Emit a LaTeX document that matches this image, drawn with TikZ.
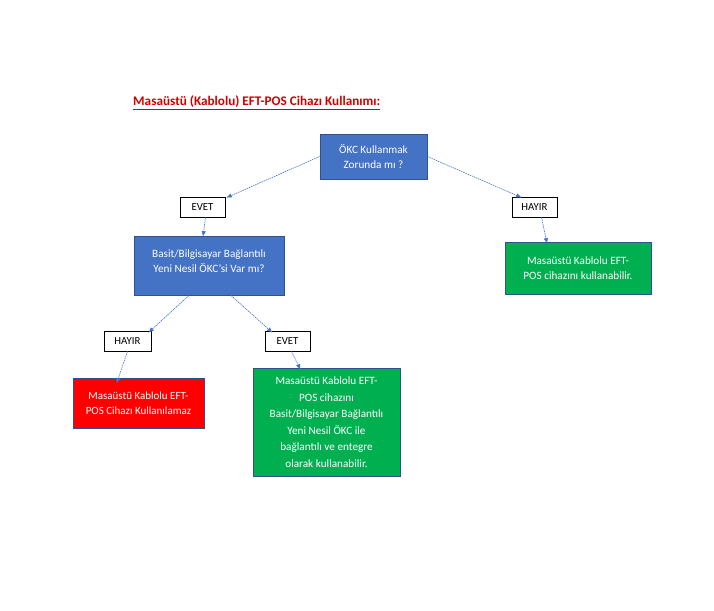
\documentclass[tikz,border=0pt]{standalone}
\usepackage{fontspec}
\setmainfont{Carlito}
\usetikzlibrary{arrows.meta}
\definecolor{boxblue}{HTML}{4472C4}
\definecolor{boxedge}{HTML}{2F528F}
\definecolor{boxgreen}{HTML}{00B050}
\definecolor{boxred}{HTML}{FF0000}
\definecolor{titlered}{HTML}{D00000}
\tikzset{
  decision/.style={draw=boxedge, line width=0.8pt, fill=boxblue, text=white, align=center, font=\fontsize{11.2}{15}\selectfont, inner sep=0pt},
  greenbox/.style={decision, fill=boxgreen},
  redbox/.style={decision, fill=boxred},
  answer/.style={draw=black, line width=0.6pt, fill=white, font=\fontsize{10.8}{12}\selectfont, minimum width=45pt, minimum height=20pt, inner sep=0pt},
  conn/.style={draw=boxblue, line width=0.6pt, dash pattern=on 1.5pt off 0.8pt, -{Latex[length=5.5pt,width=4.5pt]}}
}
\begin{document}
\begin{tikzpicture}[x=1pt,y=-1pt]
\useasboundingbox (0,0) rectangle (714,610);
\node[anchor=west, text=titlered, font=\fontsize{13.2}{15}\selectfont\bfseries, inner sep=0pt] (title) at (133,103) {\underline{Masaüstü (Kablolu) EFT-POS Cihazı Kullanımı:}};
\node[decision, minimum width=107pt, minimum height=45pt] (okc) at (373.5,156.5) {ÖKC Kullanmak\\Zorunda mı ?};
\node[answer] (e1) at (202.5,207) {EVET};
\node[answer] (h1) at (534.5,207) {HAYIR};
\node[decision, minimum width=150pt, minimum height=59pt] (b) at (209,265.5) {Basit/Bilgisayar Bağlantılı\\Yeni Nesil ÖKC’si Var mı?\\[-7pt]};
\node[greenbox, minimum width=146pt, minimum height=52pt] (g1) at (578,268) {Masaüstü Kablolu EFT-\\POS cihazını kullanabilir.};
\node[answer, minimum width=47pt] (h2) at (127.5,341) {HAYIR};
\node[answer] (e2) at (287.5,341) {EVET};
\node[redbox, minimum width=131pt, minimum height=50pt, font=\fontsize{11}{15}\selectfont] (r) at (138.5,403) {Masaüstü Kablolu EFT-\\POS Cihazı Kullanılamaz};
\node[greenbox, minimum width=147pt, minimum height=108pt, font=\fontsize{11.2}{16.5}\selectfont] (g2) at (326.5,422) {Masaüstü Kablolu EFT-\\POS cihazını\\Basit/Bilgisayar Bağlantılı\\Yeni Nesil ÖKC ile\\bağlantılı ve entegre\\olarak kullanabilir.};
\draw[conn] (okc.west) -- ([xshift=1pt,yshift=-1pt]e1.north east);
\draw[conn] (okc.east) -- ([xshift=10pt,yshift=-1pt]h1.north west);
\draw[conn] ([xshift=3pt]e1.south) -- ([xshift=-6pt,yshift=-1pt]b.north);
\draw[conn] ([xshift=7pt]h1.south) -- ([xshift=-31pt,yshift=-2pt]g1.north);
\draw[conn] ([xshift=-20pt]b.south) -- ([xshift=-3pt,yshift=-2pt]h2.north east);
\draw[conn] ([xshift=22pt]b.south) -- ([xshift=-15pt,yshift=-2pt]e2.north);
\draw[conn] (h2.south) -- ([xshift=-22pt,yshift=-6pt]r.north);
\draw[conn] ([xshift=4pt]e2.south) -- ([xshift=-26pt,yshift=-2pt]g2.north);
\end{tikzpicture}
\end{document}
